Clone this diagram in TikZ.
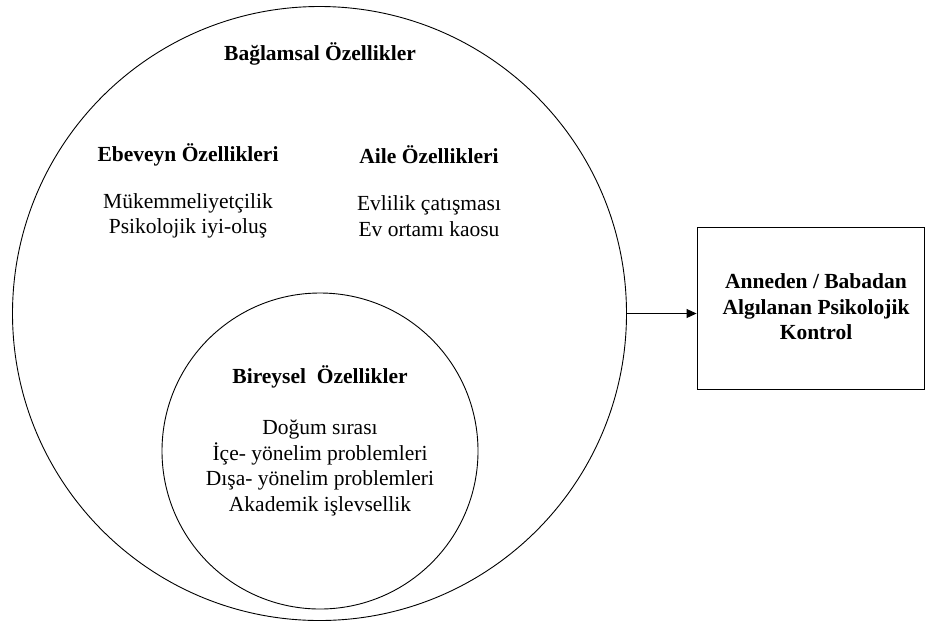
\documentclass[tikz,border=0pt]{standalone}
\usepackage{fontspec}
\setmainfont{Liberation Serif}
\usetikzlibrary{arrows.meta}
\begin{document}
\begin{tikzpicture}[x=1pt,y=-1pt,
  txt/.style={font=\fontsize{21.5}{25.5}\selectfont, align=center, inner sep=0pt},
  hdr/.style={font=\fontsize{21.5}{25.5}\selectfont\bfseries, align=center, inner sep=0pt},
  ring/.style={draw, circle, line width=0.9pt, inner sep=0pt},
  boxed/.style={draw, rectangle, line width=0.9pt, inner sep=0pt},
  conn/.style={-{Triangle[length=10pt,width=9pt]}, line width=0.9pt}]
\useasboundingbox (0,0) rectangle (925,622);
\node[ring, minimum size=614pt] (outer) at (319.5,313.5) {};
\node[ring, minimum size=316pt] (inner) at (320,451) {};
\node[boxed, minimum width=227pt, minimum height=162pt] (box) at (810.5,308) {};
\node[hdr] (ctx) at (320,54) {Bağlamsal Özellikler};
\node[hdr] (par) at (188,155) {Ebeveyn Özellikleri};
\node[txt] (parl) at (188,216) {Mükemmeliyetçilik\\Psikolojik iyi-oluş};
\node[hdr] (fam) at (429,155) {Aile Özellikleri};
\node[txt] (faml) at (429,216) {Evlilik çatışması\\Ev ortamı kaosu};
\node[hdr] (ind) at (320,377) {Bireysel\ \ Özellikler};
\node[txt] (indl) at (320,468) {Doğum sırası\\İçe- yönelim problemleri\\Dışa- yönelim problemleri\\Akademik işlevsellik};
\node[hdr] (out) at (816,307) {Anneden / Babadan\\Algılanan Psikolojik\\Kontrol};
\draw[conn] (outer.east) -- (outer.east -| box.west);
\end{tikzpicture}
\end{document}
